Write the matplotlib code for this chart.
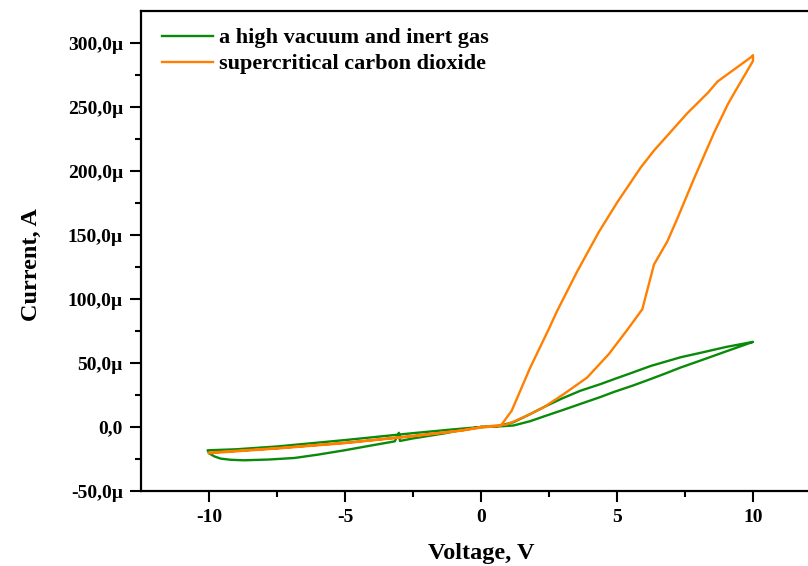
import matplotlib
matplotlib.use('Agg')
import matplotlib.pyplot as plt

# I-V loops, current in microamps
green_v = [0.0, 0.6, 1.2, 1.8, 2.4, 3.0, 3.65, 4.4, 4.9, 5.6, 6.24, 6.8, 7.34, 8.08, 9.0, 10.0,
           9.5, 9.0, 8.08, 7.34, 6.24, 5.5, 4.88, 4.39, 3.65, 3.0, 2.42, 1.8, 1.19, 0.58, 0.0,
           -1.0, -2.5, -5.0, -7.5, -9.0, -10.05,
           -10.0, -9.8, -9.57, -9.2, -8.71, -7.8, -6.86, -6.0, -5.02, -4.0, -3.17, -3.02, -2.98,
           -2.5, -1.94, -1.3, -0.71, 0.0]
green_i = [0.0, 0.4, 1.2, 4.5, 8.9, 13.2, 18.0, 23.5, 27.5, 32.5, 37.5, 42.0, 46.5, 52.0, 59.0, 66.5,
           64.5, 62.5, 58.0, 54.5, 47.7, 42.0, 37.3, 33.5, 28.3, 22.5, 16.7, 10.0, 3.7, 0.6, 0.0,
           -1.8, -4.8, -10.2, -15.2, -17.4, -18.2,
           -20.5, -23.0, -24.7, -25.6, -26.0, -25.4, -24.2, -21.6, -18.2, -14.3, -11.2, -4.5, -10.9,
           -8.9, -7.0, -4.8, -2.3, 0.0]

orange_v = [-10.0, -7.5, -5.0, -2.5, -0.7, 0.0, 0.72, 1.13, 1.8, 2.48, 2.79, 3.53, 4.33,
            5.01, 5.87, 6.36, 7.59, 8.33, 8.7, 9.93, 10.0,
            10.0, 9.31, 9.07, 8.57, 7.83, 7.22, 6.85, 6.36, 5.93, 5.38, 4.7, 3.9, 3.04,
            2.3, 1.56, 0.95, 0.0, -0.7, -2.5, -5.0, -7.5, -10.0]
orange_i = [-20.5, -16.8, -12.6, -7.2, -2.8, -0.4, 0.8, 12.8, 46.0, 76.0, 90.3, 121.3, 152.3,
            175.6, 202.7, 216.0, 245.3, 260.9, 270.0, 289.0, 290.5,
            286.0, 261.0, 252.0, 230.0, 194.0, 163.0, 145.0, 127.0, 92.0, 76.0, 57.0, 38.6, 25.7,
            15.3, 7.6, 2.0, 0.0, -2.6, -7.0, -12.3, -16.5, -20.0]

series_names = ['a high vacuum and inert gas', 'supercritical carbon dioxide']

x_ticks = [-10, -5, 0, 5, 10]
y_ticks = [-50, 0, 50, 100, 150, 200, 250, 300]
y_tick_labels = ['-50,0\u00b5', '0,0', '50,0\u00b5', '100,0\u00b5', '150,0\u00b5',
                 '200,0\u00b5', '250,0\u00b5', '300,0\u00b5']

plt.rcParams['font.family'] = ['Liberation Serif', 'DejaVu Serif']
plt.rcParams['font.weight'] = 'bold'
plt.rcParams['axes.unicode_minus'] = False

fig = plt.figure(figsize=(8.08, 5.66), dpi=100)
ax = fig.add_axes([0.1745, 0.1325, 0.8416, 0.848])

ax.plot(green_v, green_i, color='#0a8a0a', lw=1.7, label=series_names[0])
ax.plot(orange_v, orange_i, color='#ff8000', lw=1.7, label=series_names[1])

ax.set_xlim(-12.5, 12.5)
ax.set_ylim(-50, 325)
ax.set_xticks(x_ticks)
ax.set_xticks([-7.5, -2.5, 2.5, 7.5], minor=True)
ax.set_yticks(y_ticks)
ax.set_yticklabels(y_tick_labels)
ax.set_yticks([-25, 25, 75, 125, 175, 225, 275], minor=True)

ax.tick_params(which='major', direction='out', length=8, width=1.5, labelsize=14, pad=5)
ax.tick_params(which='minor', direction='out', length=4.5, width=1.5)
for s in ax.spines.values():
    s.set_linewidth(1.6)

ax.set_xlabel('Voltage, V', fontsize=17.5, fontweight='bold', labelpad=12)
ax.set_ylabel('Current, A', fontsize=17.5, fontweight='bold')
ax.yaxis.set_label_coords(-0.145, 0.471)

ax.legend(loc='upper left', frameon=False, fontsize=16, handlelength=2.3,
          handletextpad=0.27, borderaxespad=0.55, labelspacing=0.25,
          bbox_to_anchor=(0.0, 1.009))

fig.savefig('out.png', dpi=100)
